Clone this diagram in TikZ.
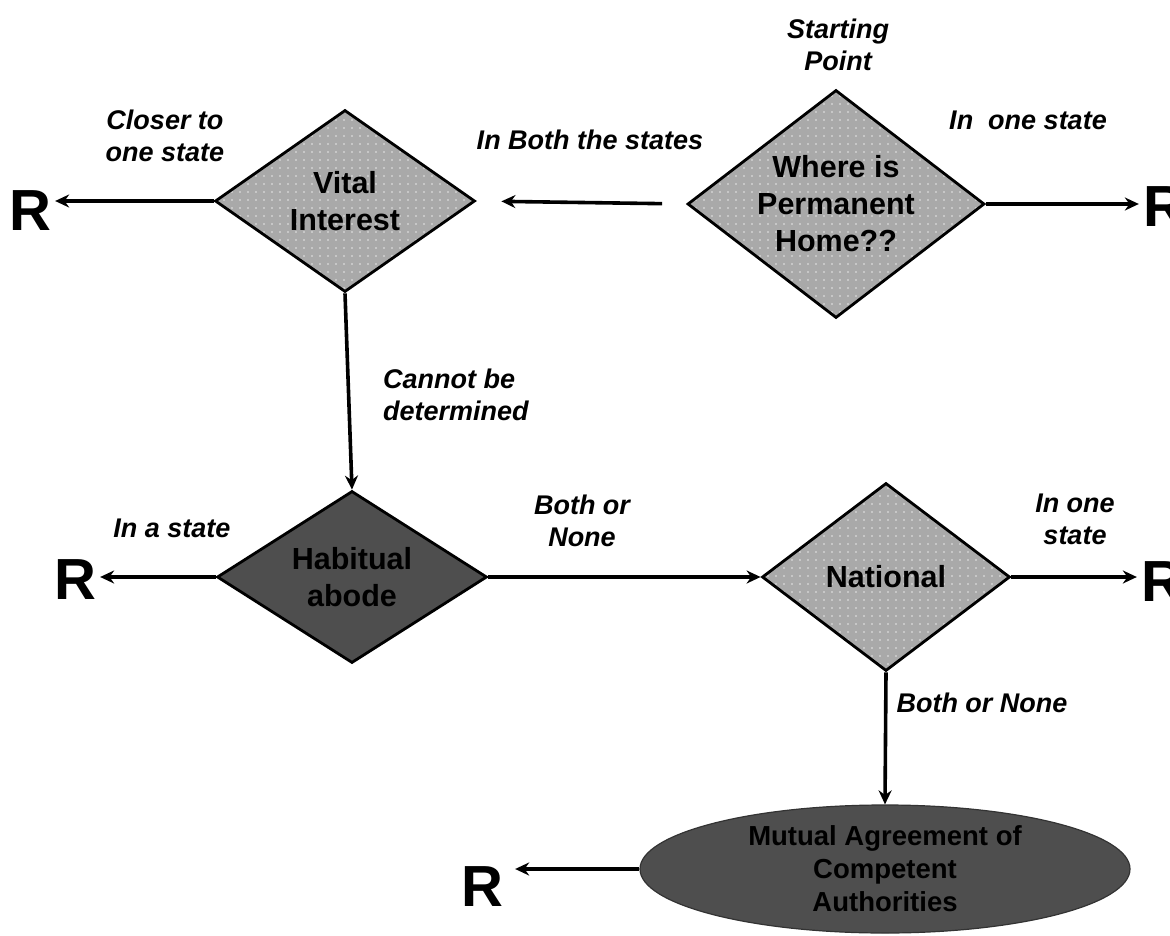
\documentclass[tikz,border=0pt]{standalone}
\usepackage{fontspec}
\setmainfont{Liberation Sans}
\usetikzlibrary{shapes.geometric,arrows.meta,patterns.meta}
\definecolor{lightg}{HTML}{A9A9A9}
\definecolor{darkg}{HTML}{4E4E4E}
\definecolor{dotc}{HTML}{E6E6E6}
\tikzdeclarepattern{
  name=wdots,
  type=uncolored,
  bottom left={(-1pt,-1pt)},
  top right={(1pt,1pt)},
  tile size={(8pt,8pt)},
  code={\fill (0pt,0pt) circle (0.8pt);}
}
\newcommand\nodefont{\fontsize{30.5}{37}\selectfont\bfseries}
\newcommand\ellfont{\fontsize{27.5}{33}\selectfont\bfseries}
\newcommand\labfont{\fontsize{27}{32}\selectfont\bfseries\itshape}
\newcommand\rfont{\fontsize{58}{58}\selectfont\bfseries}
\tikzset{
  dia/.style={diamond, draw=black, line width=2.8pt, inner sep=-20pt, align=center,
    font=\nodefont, preaction={fill=lightg}, pattern={wdots}, pattern color=dotc},
  darkdia/.style={diamond, draw=black, line width=2.8pt, inner sep=-20pt, align=center,
    font=\nodefont, fill=darkg, text=black},
  ell/.style={ellipse, draw=black!80, line width=1.2pt, inner sep=0pt, align=center,
    font=\ellfont, fill=darkg, text=black},
  rnode/.style={inner sep=0pt, font=\rfont},
  lab/.style={inner sep=0pt, align=center, font=\labfont},
  conn/.style={line width=3.6pt, -{Stealth[length=14pt,width=13pt]}}
}
\begin{document}
\begin{tikzpicture}[x=1pt,y=-1pt]
\useasboundingbox (0,0) rectangle (1170,936);
% nodes
\node[dia, minimum width=297, minimum height=228] (ph) at (836,204) {Where is\\Permanent\\Home??};
\node[dia, minimum width=260, minimum height=182] (vi) at (345,201) {Vital\\Interest};
\node[darkdia, minimum width=270, minimum height=172] (ha) at (352,577) {Habitual\\abode};
\node[dia, minimum width=248, minimum height=188] (na) at (886,577) {National};
\node[ell, minimum width=490, minimum height=128] (ma) at (885,869) {Mutual Agreement of\\Competent\\Authorities};
% R nodes
\node[rnode] (rtl) at (30,211) {R};
\node[rnode] (rtr) at (1164,207) {R};
\node[rnode] (rml) at (75,580) {R};
\node[rnode] (rmr) at (1162,582) {R};
\node[rnode] (rb) at (482,887) {R};
% labels
\node[lab] (l1) at (838,45) {Starting\\Point};
\node[lab] (l2) at (1028,120) {In\ \ one state};
\node[lab] (l3) at (590,140) {In Both the states};
\node[lab] (l4) at (165,136) {Closer to\\one state};
\node[lab, align=left, anchor=west] (l5) at (383,395) {Cannot be\\determined};
\node[lab] (l6) at (172,528) {In a state};
\node[lab] (l7) at (582,521) {Both or\\None};
\node[lab] (l8) at (1075,519) {In one\\state};
\node[lab] (l9) at (982,703) {Both or None};
% connectors
\draw[conn, shorten <=24pt, shorten >=25pt] (ph.west) -- (vi.east);
\draw[conn, shorten >=4pt] (ph.east) -- (ph.east -| rtr.west);
\draw[conn, shorten >=4pt] (vi.west) -- (vi.west -| rtl.east);
\draw[conn] (vi.south) -- (ha.north);
\draw[conn, shorten >=4pt] (ha.west) -- (ha.west -| rml.east);
\draw[conn] (ha.east) -- (na.west);
\draw[conn, shorten >=4pt] (na.east) -- (na.east -| rmr.west);
\draw[conn] (na.south) -- (ma.north);
\draw[conn, shorten >=12pt] (ma.west) -- (ma.west -| rb.east);
\end{tikzpicture}
\end{document}
